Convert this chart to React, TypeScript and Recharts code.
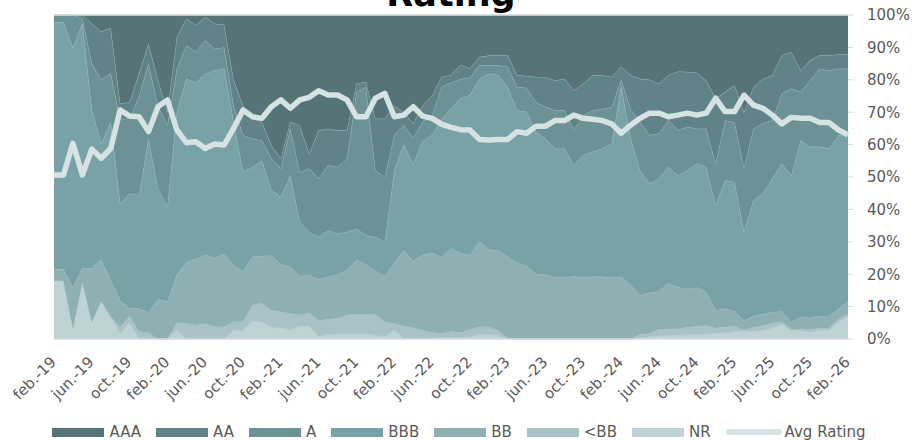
import { ComposedChart, Area, Line, XAxis, YAxis, Legend, ReferenceLine } from 'recharts'

const MONTH_NAMES = ['ene.', 'feb.', 'mar.', 'abr.', 'may.', 'jun.', 'jul.', 'ago.', 'sep.', 'oct.', 'nov.', 'dic.']

// feb.-19 .. feb.-26, one point per month
const months: string[] = []
for (let y = 2019; y <= 2026; y++) {
  for (let m = 0; m < 12; m++) {
    if ((y === 2019 && m < 1) || (y === 2026 && m > 1)) continue
    months.push(`${MONTH_NAMES[m]}-${String(y).slice(2)}`)
  }
}

// shares in % (bottom of the stack first)
const NR = [
  18, 18, 3.4, 17.7, 5.3, 11.7, 6.9, 1.8, 5.2, 0,
  0, 0, 0, 2.8, 0, 0, 0, 0, 0, 2.7,
  2.7, 5.6, 5.3, 3.7, 3.4, 2.9, 4, 4, 0.8, 1.5,
  1.6, 1.6, 1.6, 1.6, 1.2, 0.8, 2.7, 0.3, 0.3, 0.3,
  0.3, 0.5, 0.6, 0.6, 0.7, 1.5, 1.4, 1.3, 0, 0,
  0, 0, 0, 0, 0, 0, 0, 0, 0, 0,
  0, 0, 0.5, 0.7, 1, 1.1, 1.2, 1.3, 1.4, 1.6,
  1.8, 2, 2.3, 2.4, 2.5, 2.6, 3.5, 4.6, 2.6, 2.6,
  2.2, 2.7, 2.8, 5.3, 7,
]
const BELOW_BB = [
  0, 0, 0, 0, 0, 0, 0, 2, 1.9, 2.3,
  2, 0, 0, 2.2, 4.8, 4.3, 4.8, 3.8, 3.8, 2.6,
  2.6, 4.9, 5.7, 5.2, 5, 5, 3.4, 4.2, 4.9, 4.6,
  4.8, 5.8, 6.1, 6, 6.4, 4.5, 2.1, 3.7, 3.2, 2.5,
  1.7, 1.2, 1.7, 1.4, 2.3, 2.3, 2.4, 1.3, 0.3, 0,
  0, 0, 0, 0, 0, 0, 0, 0, 0, 0,
  0, 0, 1, 0.9, 2, 2, 2, 2.3, 2.5, 2.6,
  1.6, 1.7, 1.7, 0.4, 1.1, 1.6, 1.4, 0.7, 0.4, 0.6,
  0.8, 0.6, 0.6, 0.9, 0.6,
]
const BB = [
  3.5, 3.5, 12.4, 4.1, 16.5, 12.7, 11.3, 8, 2.5, 7.1,
  6.2, 12.3, 11.5, 14.8, 18.8, 20.3, 21.1, 21.1, 22.4, 17.5,
  15.5, 14.9, 14.6, 16.8, 14.6, 14.4, 12, 11.6, 12.7, 13.1,
  13.4, 13.9, 16.7, 15.5, 13.5, 14.1, 18.8, 23.2, 20.6, 23.1,
  24.6, 23.5, 25.7, 24.4, 22.9, 26.2, 23.9, 24.7, 25.1, 23.4,
  22.5, 20, 19.8, 19, 18.9, 19.4, 18.9, 19.2, 19.2, 18.9,
  19.2, 16.7, 12, 12.7, 11.7, 14.2, 12.8, 11.8, 12, 10.3,
  5.4, 5.7, 4.5, 2.8, 3.4, 3.6, 3.4, 3.2, 2.2, 3.6,
  3.5, 3.8, 3.7, 3.1, 4,
]
const BBB = [
  76.3, 76.3, 74.2, 75.5, 49.2, 35.9, 48.8, 30, 35.3, 34.9,
  53.6, 34.1, 29.2, 50.2, 56.7, 54.4, 55.9, 58, 57.2, 44.2,
  30.8, 27.6, 29.5, 20.3, 20.8, 28.2, 16.7, 13.2, 13.1, 14.3,
  12.7, 11.7, 9.6, 8.9, 10.4, 10.6, 28.4, 32.8, 29.9, 35.1,
  36.4, 42.8, 43, 47.8, 49.3, 50.3, 54.2, 54.1, 52.4, 47.2,
  47.6, 43.9, 42, 39.7, 39.8, 34.2, 37.8, 38.5, 39.5, 41.4,
  58.8, 45.3, 38.5, 33.6, 34.8, 35.8, 34.5, 36.6, 38.2, 38.6,
  32.5, 39.6, 39.9, 27.4, 35.8, 37.1, 41.2, 45.6, 45.3, 54.5,
  52.8, 52.2, 51.7, 53.5, 51.7,
]
const A = [
  2.2, 2.2, 10, 1.7, 14, 19.7, 15, 26.2, 23.1, 30.7,
  23.2, 25.6, 25.3, 13.4, 10.3, 9.6, 10.4, 6.7, 6.6, 5,
  11.3, 8.8, 6.2, 9.7, 8.8, 14.5, 15.4, 19.6, 18, 20.1,
  20.6, 22.7, 42.2, 45.8, 20.5, 20, 11, 6, 8, 6,
  6, 9.8, 8.2, 6, 5.5, 4.2, 2.6, 3, 6.2, 7.2,
  7.4, 9.2, 9.8, 11.9, 11.9, 10.8, 12.3, 12.9, 12.3, 11.3,
  2, 9, 15, 15, 13.9, 14.4, 13.9, 13.4, 10.8, 11.8,
  12.8, 18.4, 18.5, 19.6, 22.1, 21.6, 18, 21.6, 26.8, 14.9,
  20.5, 24.1, 24.1, 20.6, 20.1,
]
const AA = [
  0, 0, 0, 1, 12.3, 14.8, 14, 4.6, 5.1, 7,
  6.2, 8, 4, 9.8, 8.3, 8.2, 7.2, 7.7, 7, 8,
  9.1, 6.2, 5.7, 4.1, 3.1, 2, 14.4, 4.6, 14.9, 11.3,
  11.3, 8.7, 2.6, 1.5, 16, 18, 9, 4, 4.5, 5,
  6, 3.1, 2.3, 4.4, 2.8, 2.5, 3, 3.1, 3.5, 3.6,
  3.7, 7.8, 9.3, 9.2, 9.7, 12.4, 9.8, 10.8, 10.4, 9.3,
  4, 10.4, 13.3, 17.1, 15.4, 13.9, 18.2, 17, 17.3, 14.9,
  20.1, 8.8, 11.4, 17.4, 12.9, 13.8, 13.9, 11.9, 11.3, 6.7,
  6.2, 4.2, 4.7, 4.4, 4.4,
]
const AAA = [
  0, 0, 0, 0, 2.7, 5.2, 4, 27.4, 26.9, 18,
  8.8, 20, 30, 6.8, 1.1, 3.2, 0.6, 2.7, 3, 20,
  28, 32, 33, 40.2, 44.3, 33, 34.1, 42.8, 35.6, 35.1,
  35.6, 35.6, 21.2, 20.7, 32, 32, 28, 30, 33.5, 28,
  25, 19.1, 18.5, 15.4, 16.5, 13, 12.5, 12.5, 12.5, 18.6,
  18.8, 19.1, 19.1, 20.2, 19.7, 23.2, 21.2, 18.6, 18.6, 19.1,
  16, 18.6, 19.7, 20, 21.2, 18.6, 17.4, 17.6, 17.8, 20.2,
  25.8, 23.8, 21.7, 30, 22.2, 19.7, 18.6, 12.4, 11.4, 17.1,
  14, 12.4, 12.4, 12.2, 12.2,
]
const AVG_RATING = [
  50.6, 50.6, 60.4, 50.6, 58.6, 55.8, 58.8, 70.7, 68.8, 68.6,
  64, 71.7, 73.8, 64.5, 60.6, 60.9, 58.8, 60.2, 59.9, 65,
  70.7, 68.6, 68.1, 71.7, 73.8, 71.2, 73.8, 74.6, 76.6, 75.3,
  75.3, 73.8, 68.6, 68.6, 74.3, 75.8, 68.6, 69.1, 71.7, 68.8,
  68.1, 66.3, 65.3, 64.6, 64.5, 61.6, 61.4, 61.6, 61.6, 64,
  63.5, 65.7, 65.7, 67.4, 67.4, 69.1, 68.1, 67.8, 67.4, 66.4,
  63.5, 66, 68.1, 69.7, 69.7, 68.6, 69.1, 69.7, 69.1, 69.7,
  74.3, 70.2, 70.2, 75.3, 72.2, 71.2, 69.1, 66.4, 68.4, 68.1,
  68.1, 66.8, 66.8, 64.5, 63,
]

const PCT_TICKS = [0, 10, 20, 30, 40, 50, 60, 70, 80, 90, 100]

// stacking order: first entry sits at the bottom
const SERIES = [
  { key: 'NR', color: '#bfd2d5' },
  { key: '<BB', color: '#a8c2c5' },
  { key: 'BB', color: '#8eb0b3' },
  { key: 'BBB', color: '#79a2a6' },
  { key: 'A', color: '#6c9296' },
  { key: 'AA', color: '#608387' },
  { key: 'AAA', color: '#567477' },
]
const AVG_COLOR = '#d6e2e4'
const TEXT_GREY = '#595959'
const AXIS_GREY = '#d9d9d9'

const data = months.map((month, i) => ({
  month,
  NR: NR[i],
  '<BB': BELOW_BB[i],
  BB: BB[i],
  BBB: BBB[i],
  A: A[i],
  AA: AA[i],
  AAA: AAA[i],
  avg: AVG_RATING[i],
}))

function MonthTick({ x, y, payload }: any) {
  return (
    <text
      transform={`translate(${x + 3},${y + 24}) rotate(-45)`}
      textAnchor="end"
      fill={TEXT_GREY}
      fontSize={15}
    >
      {payload.value}
    </text>
  )
}

function ChartLegend() {
  const items = [...SERIES].reverse()
  return (
    <div style={{ display: 'flex', justifyContent: 'center', alignItems: 'center', height: 16, fontSize: 15, color: TEXT_GREY, lineHeight: '16px' }}>
      {items.map(s => (
        <div key={s.key} style={{ display: 'flex', alignItems: 'center', marginRight: 15 }}>
          <span style={{ display: 'inline-block', width: 52, height: 9, background: s.color, marginRight: 5 }} />
          <span>{s.key}</span>
        </div>
      ))}
      <div style={{ display: 'flex', alignItems: 'center' }}>
        <span style={{ display: 'inline-block', width: 56, height: 6, borderRadius: 3, background: AVG_COLOR, marginRight: 3 }} />
        <span>Avg Rating</span>
      </div>
    </div>
  )
}

export default function App() {
  return (
    <div style={{ position: 'absolute', left: 0, top: 0, width: 918, height: 440, fontFamily: '"DejaVu Sans", Verdana, sans-serif', background: '#fff', overflow: 'hidden' }}>
      <div style={{ position: 'absolute', left: 0, width: 902, top: -23, textAlign: 'center', fontSize: 35, lineHeight: '35px', fontWeight: 'bold', color: '#000', zIndex: 2 }}>
        Rating
      </div>
      <ComposedChart width={918} height={440} data={data} margin={{ top: 15, right: 0, bottom: 0, left: 50 }}>
        <XAxis
          dataKey="month"
          interval={3}
          height={85}
          tickLine={false}
          tickSize={0}
          tickMargin={0}
          axisLine={{ stroke: AXIS_GREY, strokeWidth: 1.5 }}
          tick={<MonthTick />}
        />
        <YAxis
          yAxisId="left"
          domain={[0, 100]}
          ticks={PCT_TICKS}
          width={4}
          tick={false}
          tickSize={4}
          tickLine={{ stroke: AXIS_GREY }}
          axisLine={false}
        />
        <YAxis
          yAxisId="right"
          orientation="right"
          domain={[0, 100]}
          ticks={PCT_TICKS}
          width={70}
          tickFormatter={(v: number) => `${v}%`}
          tickSize={5}
          tickMargin={14}
          tickLine={{ stroke: AXIS_GREY }}
          axisLine={false}
          tick={{ fill: TEXT_GREY, fontSize: 15 }}
        />
        {SERIES.map(s => (
          <Area
            key={s.key}
            yAxisId="right"
            type="linear"
            dataKey={s.key}
            stackId="rating"
            fill={s.color}
            fillOpacity={1}
            stroke="#a6c1c4"
            strokeWidth={0.6}
            isAnimationActive={false}
          />
        ))}
        <Line
          yAxisId="right"
          type="linear"
          dataKey="avg"
          name="Avg Rating"
          stroke={AVG_COLOR}
          strokeWidth={5.5}
          strokeLinejoin="round"
          dot={false}
          isAnimationActive={false}
        />
        <ReferenceLine yAxisId="right" y={100} stroke={AXIS_GREY} strokeWidth={1.5} />
        <Legend verticalAlign="bottom" content={() => <ChartLegend />} wrapperStyle={{ left: 0, width: 918, bottom: 0 }} />
      </ComposedChart>
    </div>
  )
}
